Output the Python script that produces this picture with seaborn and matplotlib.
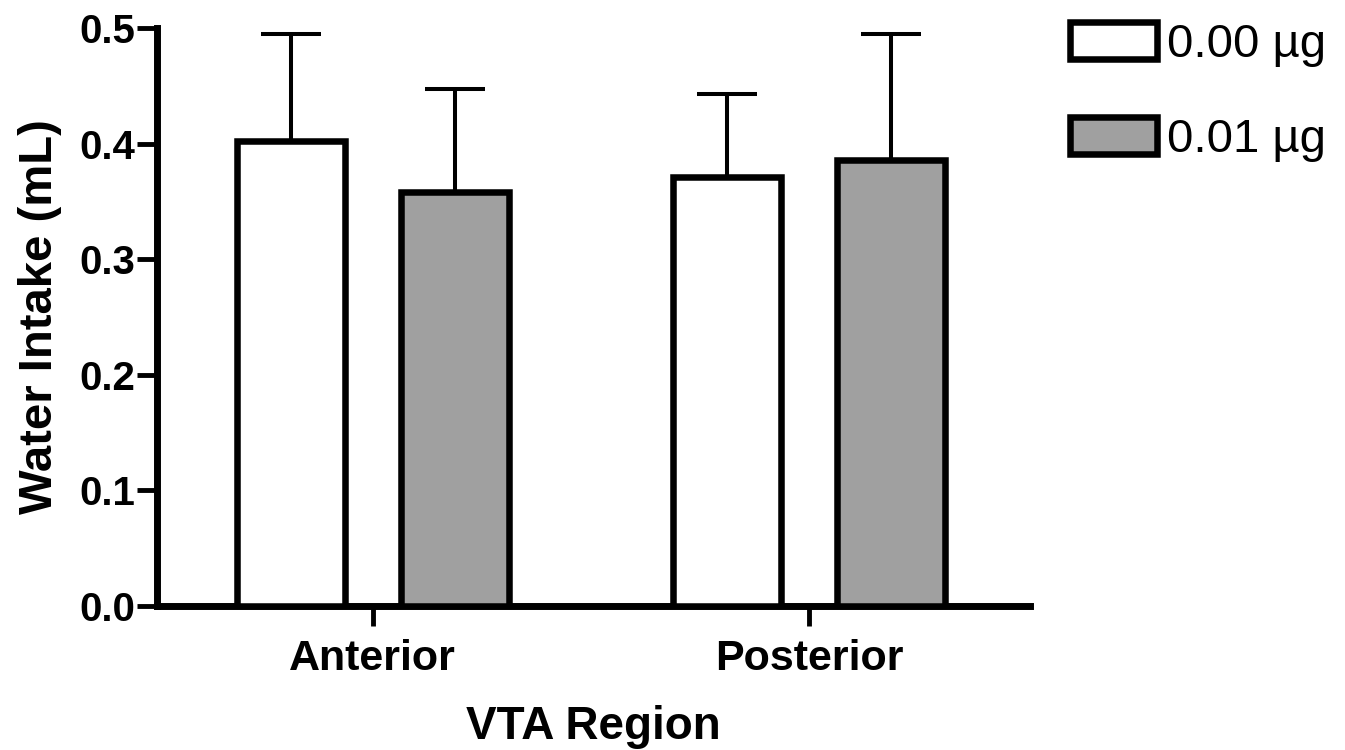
import pandas as pd
import matplotlib
matplotlib.use("Agg")
import matplotlib.pyplot as plt
import seaborn as sns

# valores (média e erro superior)
regions = ["Anterior", "Posterior"]
doses = ["0.00 \u00b5g", "0.01 \u00b5g"]
mean_dose0 = [0.402, 0.371]
mean_dose1 = [0.358, 0.386]
sem_dose0 = [0.093, 0.072]
sem_dose1 = [0.089, 0.109]

df = pd.DataFrame({
    "region": regions * 2,
    "dose": [doses[0]] * 2 + [doses[1]] * 2,
    "intake": mean_dose0 + mean_dose1,
    "sem": sem_dose0 + sem_dose1,
})

sns.set_theme(style="ticks")
plt.rcParams.update({
    "text.color": "black",
    "axes.labelcolor": "black",
    "axes.edgecolor": "black",
    "xtick.color": "black",
    "ytick.color": "black",
})
plt.rcParams["font.family"] = ["Liberation Sans", "DejaVu Sans"]

fig = plt.figure(figsize=(13.45, 7.5), dpi=100)
ax = fig.add_axes([157 / 1345, 144 / 750, 873 / 1345, 578 / 750])

sns.barplot(
    data=df, x="region", y="intake", hue="dose", order=regions, hue_order=doses,
    palette=["white", "#a0a0a0"], edgecolor="black", linewidth=4.7,
    width=0.752, gap=0.34, errorbar=None, legend=False, ax=ax, zorder=3,
)

# barras de erro (só para cima), posições tiradas das barras desenhadas
for cont, level in zip(ax.containers, doses):
    sub = df[df["dose"] == level].set_index("region").loc[regions]
    xs = [p.get_x() + p.get_width() / 2 for p in cont.patches]
    ax.errorbar(
        xs, sub["intake"], yerr=[[0] * len(xs), sub["sem"]], fmt="none",
        ecolor="black", elinewidth=2.9, capsize=21.6, capthick=2.9, zorder=2,
    )

ax.set_ylim(0, 0.5)
ax.set_xlim(-0.495, 1.507)
ax.set_yticks([0.0, 0.1, 0.2, 0.3, 0.4, 0.5])
ax.set_yticklabels(["0.0", "0.1", "0.2", "0.3", "0.4", "0.5"])

for side in ["top", "right"]:
    ax.spines[side].set_visible(False)
for side in ["left", "bottom"]:
    ax.spines[side].set_linewidth(5)
ax.tick_params(axis="both", length=14.4, width=3.5, color="black")
ax.tick_params(axis="y", pad=1.5)
ax.tick_params(axis="x", pad=9)
for lab in ax.get_yticklabels():
    lab.set_fontsize(29)
    lab.set_fontweight("bold")
for lab in ax.get_xticklabels():
    lab.set_fontsize(31)
    lab.set_fontweight("bold")

ax.set_xlabel("VTA Region", fontsize=33, fontweight="bold", labelpad=19)
ax.set_ylabel("Water Intake (mL)", fontsize=34, fontweight="bold", labelpad=12)

ax.legend(
    handles=list(ax.containers), labels=doses,
    loc="upper left", bbox_to_anchor=(1070 / 1345, 1 - 22 / 750),
    bbox_transform=fig.transFigure, frameon=False, fontsize=34,
    handlelength=1.85, handleheight=0.83, handletextpad=0.2,
    labelspacing=1.07, borderpad=0, borderaxespad=0,
)

fig.savefig("out.png", dpi=100)
